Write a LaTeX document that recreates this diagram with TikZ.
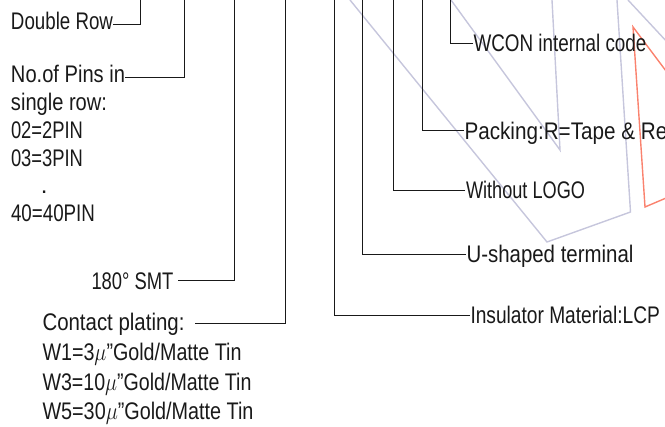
\documentclass[tikz,border=0pt]{standalone}
\usepackage{fontspec}
\setmainfont{Liberation Sans}
\usepackage{graphicx}
\definecolor{lav}{RGB}{198,198,220}
\definecolor{salm}{RGB}{250,130,110}
\definecolor{ink}{RGB}{25,25,25}
\newcommand\fitw[2]{\resizebox{#1pt}{\height}{#2}}
\begin{document}
\begin{tikzpicture}[x=1pt,y=-1pt,
  lbl/.style={anchor=base west,inner sep=0pt,outer sep=0pt,font=\fontsize{24}{28}\selectfont,text=ink},
  lead/.style={draw=ink,line width=0.9pt},
  ghost/.style={draw=lav,line width=1.4pt},
  hot/.style={draw=salm,line width=1.4pt}]
\useasboundingbox (0,0) rectangle (665,427);
\clip (0,0) rectangle (665,427);

% background outline strokes
\draw[ghost] (350,0) -- (547,242) -- (630.5,212) -- (617,0);
\draw[ghost] (451,0) -- (560,150) -- (552,0);
\draw[ghost] (628,0) -- (682,58);
\draw[hot] (684,95) -- (633,27) -- (645,207) -- (685,190);

% left labels
\node[lbl] (dr)  at (11,29.5)  {\fitw{102}{Double Row}};
\node[lbl] (np)  at (11,83)    {\fitw{114}{No.of Pins in}};
\node[lbl] (sr)  at (11,111)   {\fitw{96}{single row:}};
\node[lbl] (p2)  at (11,139)   {\fitw{72}{02=2PIN}};
\node[lbl] (p3)  at (11,166.5) {\fitw{72}{03=3PIN}};
\node[lbl] (pd)  at (41,194)   {.};
\node[lbl] (p40) at (11,222)   {\fitw{84}{40=40PIN}};
\node[lbl] (smt) at (91.5,290) {\fitw{82}{180° SMT}};
\node[lbl] (cp)  at (42.5,331) {\fitw{142}{Contact plating:}};
\node[lbl] (w1)  at (42.5,361) {\fitw{199}{W1=3$\mu$''Gold/Matte Tin}};
\node[lbl] (w3)  at (42.5,391) {\fitw{209}{W3=10$\mu$''Gold/Matte Tin}};
\node[lbl] (w5)  at (42.5,420) {\fitw{211}{W5=30$\mu$''Gold/Matte Tin}};

% right labels
\node[lbl] (wc)  at (473.5,52)  {\fitw{173}{WCON internal code}};
\node[lbl] (pk)  at (464.5,139.5) {\fitw{219}{Packing:R=Tape \& Reel}};
\node[lbl] (lg)  at (466,199)   {\fitw{119}{Without LOGO}};
\node[lbl] (us)  at (466.5,263) {\fitw{167}{U-shaped terminal}};
\node[lbl] (im)  at (470.5,323.5) {\fitw{189.5}{Insulator Material:LCP}};

% leader end points
\coordinate (a1) at (113,24);   \coordinate (t1) at (140,0);
\coordinate (a2) at (125,77);   \coordinate (t2) at (184,0);
\coordinate (a3) at (178,280);  \coordinate (t3) at (234.5,0);
\coordinate (a4) at (195,323);  \coordinate (t4) at (285,0);
\coordinate (a5) at (473,43);   \coordinate (t5) at (450,0);
\coordinate (a6) at (464,130.5);\coordinate (t6) at (422,0);
\coordinate (a7) at (465,190);  \coordinate (t7) at (393,0);
\coordinate (a8) at (466,254);  \coordinate (t8) at (362.5,0);
\coordinate (a9) at (470,315);  \coordinate (t9) at (334,0);

\draw[lead] (a1) -| (t1);
\draw[lead] (a2) -| (t2);
\draw[lead] (a3) -| (t3);
\draw[lead] (a4) -| (t4);
\draw[lead] (a5) -| (t5);
\draw[lead] (a6) -| (t6);
\draw[lead] (a7) -| (t7);
\draw[lead] (a8) -| (t8);
\draw[lead] (a9) -| (t9);
\end{tikzpicture}
\end{document}
